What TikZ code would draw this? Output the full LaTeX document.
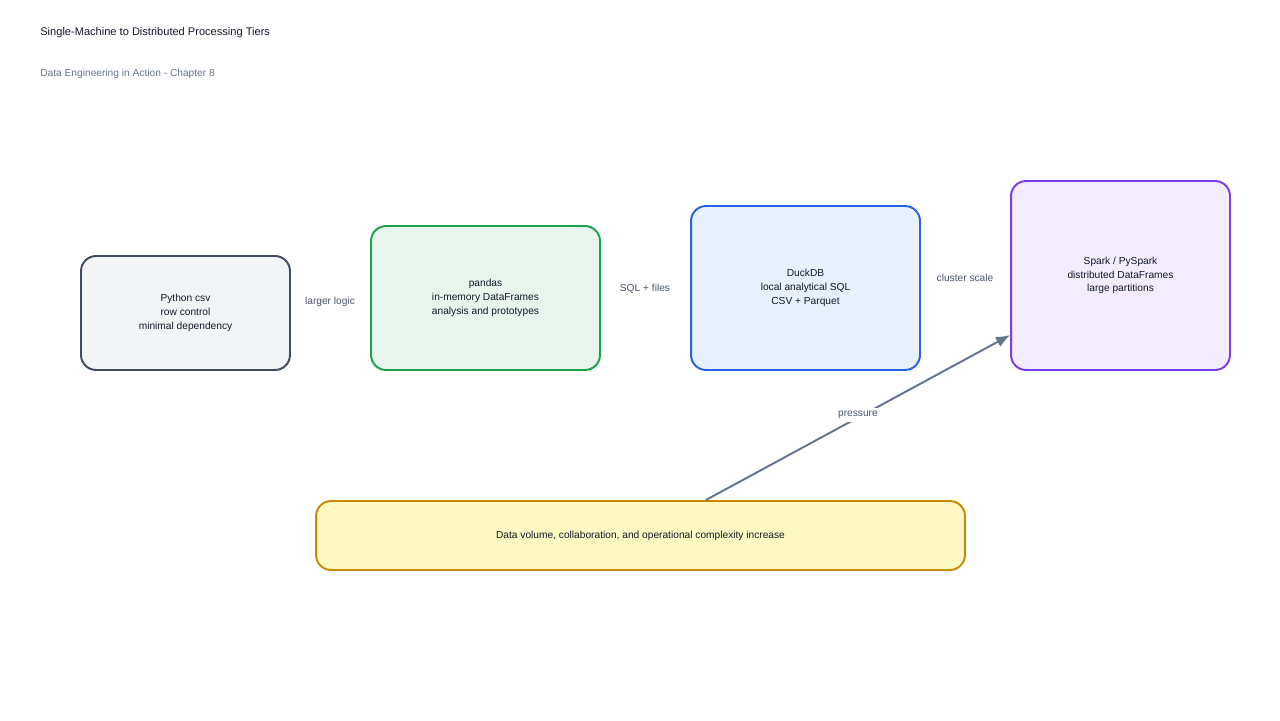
\documentclass[tikz,border=0pt]{standalone}
\usepackage{fontspec}
\setmainfont{Liberation Sans}
\usepackage{xcolor}
\usepackage{tikz}
\usetikzlibrary{arrows.meta, positioning, calc}

\definecolor{inkdark}{HTML}{111827}
\definecolor{inkgray}{HTML}{64748B}
\definecolor{edgegray}{HTML}{475569}
\definecolor{csvfill}{HTML}{F3F4F6}
\definecolor{csvline}{HTML}{3F4B5E}
\definecolor{pdfill}{HTML}{E8F5EC}
\definecolor{pdline}{HTML}{16A34A}
\definecolor{dkfill}{HTML}{E8F0FE}
\definecolor{dkline}{HTML}{2563EB}
\definecolor{spfill}{HTML}{F3ECFE}
\definecolor{spline}{HTML}{7C3AED}
\definecolor{yfill}{HTML}{FEF9C3}
\definecolor{yline}{HTML}{CA8A04}

\begin{document}
\begin{tikzpicture}[
    x=0.02cm, y=-0.02cm,
    every node/.style={font=\fontsize{5.8}{7.8}\selectfont, text=inkdark},
    tier/.style={rectangle, rounded corners=0.3cm, line width=1.1pt, align=center, inner sep=0pt},
    edgelabel/.style={text=edgegray},
    arrow/.style={-{Latex[length=8pt, width=6.5pt]}, line width=1.1pt, draw=inkgray}
]
\useasboundingbox (0,0) rectangle (1280,720);

% Heading
\node[anchor=west, inner sep=0pt, font=\fontsize{6.3}{8}\selectfont] (title) at (40,33) {Single-Machine to Distributed Processing Tiers};
\node[anchor=west, inner sep=0pt, text=inkgray] (subtitle) at (40,74) {Data Engineering in Action - Chapter 8};

% Tiers
\node[tier, draw=csvline, fill=csvfill, minimum width=4.18cm, minimum height=2.28cm] (csv) at (185.5,313)
    {Python csv\\row control\\minimal dependency};
\node[tier, draw=pdline, fill=pdfill, minimum width=4.58cm, minimum height=2.88cm] (pandas) at (485.5,298)
    {pandas\\in-memory DataFrames\\analysis and prototypes};
\node[tier, draw=dkline, fill=dkfill, minimum width=4.58cm, minimum height=3.28cm] (duckdb) at (805.5,288)
    {DuckDB\\local analytical SQL\\CSV + Parquet};
\node[tier, draw=spline, fill=spfill, minimum width=4.38cm, minimum height=3.78cm] (spark) at (1120.5,275.5)
    {Spark / PySpark\\distributed DataFrames\\large partitions};

% Transition labels
\node[edgelabel] (l1) at (330,302) {larger logic};
\node[edgelabel] (l2) at (645,289) {SQL + files};
\node[edgelabel] (l3) at (965,278) {cluster scale};

% Pressure
\node[tier, draw=yline, fill=yfill, minimum width=12.98cm, minimum height=1.38cm] (growth) at (640.5,535.5)
    {Data volume, collaboration, and operational complexity increase};
\draw[arrow] (growth) -- (spark) node[midway, yshift=1.5pt, fill=white, edgelabel, inner sep=2pt] {pressure};

\end{tikzpicture}
\end{document}
